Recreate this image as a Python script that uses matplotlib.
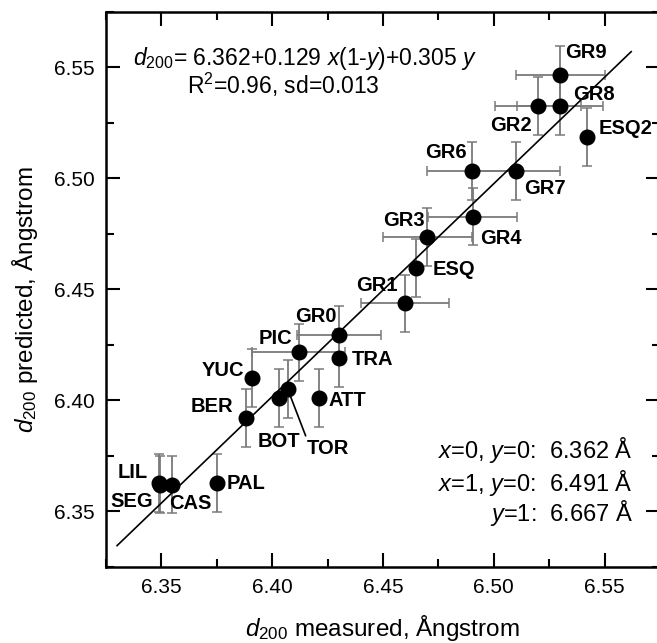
import matplotlib
matplotlib.use("Agg")
import matplotlib.pyplot as plt
from matplotlib.ticker import MultipleLocator
import numpy as np

plt.rcParams['font.family'] = ['Liberation Sans', 'DejaVu Sans']
plt.rcParams['mathtext.fontset'] = 'custom'
plt.rcParams['mathtext.rm'] = 'Liberation Sans'
plt.rcParams['mathtext.it'] = 'Liberation Sans:italic'
plt.rcParams['mathtext.bf'] = 'Liberation Sans:bold'

# samples
names = ["LIL", "SEG", "CAS", "PAL", "BER", "YUC", "BOT", "TOR", "ATT", "PIC", "GR0",
         "TRA", "GR1", "ESQ", "GR3", "GR4", "GR6", "GR7", "GR2", "GR8", "GR9", "ESQ2"]
measured = [6.349, 6.3495, 6.355, 6.375, 6.388, 6.391, 6.403, 6.407, 6.421, 6.412, 6.430,
            6.430, 6.460, 6.465, 6.470, 6.4905, 6.490, 6.510, 6.520, 6.530, 6.530, 6.542]
predicted = [6.3628, 6.362, 6.362, 6.3626, 6.392, 6.410, 6.401, 6.405, 6.401, 6.4215, 6.4294,
             6.419, 6.4436, 6.4594, 6.4735, 6.4827, 6.5032, 6.5032, 6.5325, 6.5325, 6.5465, 6.5184]
x_err = [0, 0, 0, 0, 0, 0, 0, 0, 0, 0.021, 0.019,
         0, 0.020, 0, 0.020, 0.020, 0.020, 0.020, 0.0195, 0.0195, 0.020, 0]
y_err = [0.013] * len(names)

# fitted line
fit_x = [6.330, 6.562]
fit_y = [6.3345, 6.557]

# label offsets (pixels) and alignment
label_pos = {
    "LIL": (-11, 10, "right"), "SEG": (-7, -17, "right"), "CAS": (-3, -19, "left"),
    "PAL": (10, 0, "left"), "BER": (-12, 11, "right"), "YUC": (-8, 8, "right"),
    "BOT": (0, -44, "center"), "TOR": (19, -59, "left"), "ATT": (10, -3, "left"),
    "PIC": (-7, 14, "right"), "GR0": (-2, 18, "right"), "TRA": (13, -1, "left"),
    "GR1": (-8, 18, "right"), "ESQ": (16, -1, "left"), "GR3": (-3, 17, "right"),
    "GR4": (7, -22, "left"), "GR6": (-5, 19, "right"), "GR7": (8, -17, "left"),
    "GR2": (-6, -19, "right"), "GR8": (13, 12, "left"), "GR9": (5, 22, "left"),
    "ESQ2": (12, 9, "left"),
}

measured = np.array(measured)
predicted = np.array(predicted)
x_err = np.array(x_err)
y_err = np.array(y_err)

fig = plt.figure(figsize=(6.57, 6.43), dpi=100)
ax = fig.add_axes([106 / 657, 1 - 566.7 / 643, 554 / 657, 555 / 643])

err_col = "#7a7a7a"
ax.errorbar(measured, predicted, yerr=y_err, fmt="none", ecolor=err_col,
            elinewidth=1.3, capsize=3.5, capthick=1.1, zorder=2)
has_x = x_err > 0
ax.errorbar(measured[has_x], predicted[has_x], xerr=x_err[has_x], fmt="none", ecolor=err_col,
            elinewidth=1.3, capsize=3.5, capthick=1.1, zorder=2)
ax.plot(fit_x, fit_y, color="black", lw=1.2, zorder=3)
ax.plot(measured, predicted, "o", color="black", markersize=10.5, zorder=4)

for n, mx, py in zip(names, measured, predicted):
    dx, dy, ha = label_pos[n]
    if n == "TOR":
        ax.annotate(n, (mx, py), xytext=(dx, dy), textcoords="offset pixels",
                    ha=ha, va="center", fontsize=14.5, fontweight="bold",
                    arrowprops=dict(arrowstyle="-", color="black", lw=1.2,
                                    relpos=(0, 1), shrinkA=0, shrinkB=3))
    else:
        ax.annotate(n, (mx, py), xytext=(dx, dy), textcoords="offset pixels",
                    ha=ha, va="center", fontsize=14.5, fontweight="bold", zorder=5)

ax.set_xlim(6.325, 6.575)
ax.set_ylim(6.325, 6.575)
ax.xaxis.set_major_locator(MultipleLocator(0.05))
ax.xaxis.set_minor_locator(MultipleLocator(0.025))
ax.yaxis.set_major_locator(MultipleLocator(0.05))
ax.yaxis.set_minor_locator(MultipleLocator(0.025))
ax.tick_params(which="both", direction="in", top=True, right=True, width=1.5)
ax.tick_params(which="major", length=10, labelsize=15, pad=8)
ax.tick_params(which="minor", length=6)
for s in ax.spines.values():
    s.set_linewidth(1.8)

fig.text(133 / 657, 1 - 58 / 643, r"$d_{200}$= 6.362+0.129 $x$(1-$y$)+0.305 $y$",
         fontsize=16.5, ha="left", va="center")
fig.text(186.7 / 657, 1 - 85 / 643, r"R$^2$=0.96, sd=0.013", fontsize=16.5, ha="left", va="center")

fig.text(633 / 657, 1 - 450 / 643, r"$x$=0, $y$=0:  6.362 Å", fontsize=17, ha="right", va="center")
fig.text(633 / 657, 1 - 483 / 643, r"$x$=1, $y$=0:  6.491 Å", fontsize=17, ha="right", va="center")
fig.text(633 / 657, 1 - 513 / 643, r"$y$=1:  6.667 Å", fontsize=17, ha="right", va="center")

fig.text(382 / 657, 1 - 628 / 643, r"$d_{200}$ measured, Ångstrom", fontsize=17.5,
         ha="center", va="center")
fig.text(25 / 657, 1 - 300 / 643, r"$d_{200}$ predicted, Ångstrom", fontsize=17.5,
         ha="center", va="center", rotation=90)

fig.savefig("out.png", dpi=100)
